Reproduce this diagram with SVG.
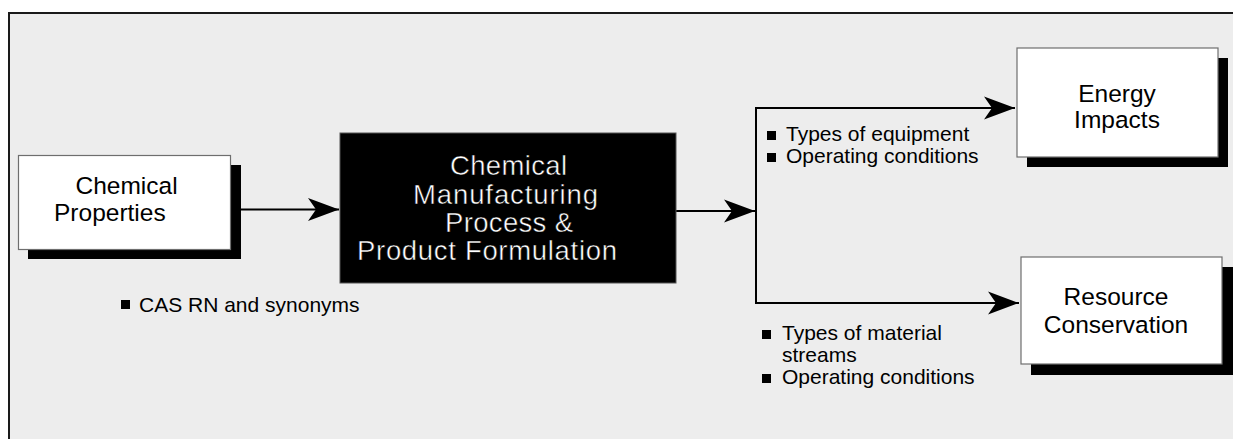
<svg xmlns="http://www.w3.org/2000/svg" width="1233" height="439" viewBox="0 0 1233 439">
<style>
.frame{fill:#ededed;stroke:#1a1a1a;stroke-width:2}
.box{fill:#ffffff;stroke:#6e6e6e;stroke-width:1.2}
.shadow{fill:#000000}
.lbl{font-family:"Liberation Sans",Arial,sans-serif;font-size:24.5px;fill:#000}
.wlbl{font-family:"Liberation Sans",Arial,sans-serif;font-size:27.5px;fill:#fff;stroke:#000;stroke-width:0.5}
.note{font-family:"Liberation Sans",Arial,sans-serif;font-size:21px;fill:#000}
.conn{fill:none;stroke:#000;stroke-width:2}
</style>
<defs>
<marker id="ah" markerUnits="userSpaceOnUse" markerWidth="32" markerHeight="24" refX="31" refY="12" orient="auto">
<path d="M0,0.5 L31,12 L0,23.5 L8,12 z" fill="#000"/>
</marker>
</defs>
<rect class="frame" x="9" y="13" width="1300" height="500"/>
<g id="connectors">
<line class="conn" x1="241" y1="209.5" x2="339" y2="209.5" marker-end="url(#ah)"/>
<line class="conn" x1="676" y1="211" x2="755" y2="211" marker-end="url(#ah)"/>
<polyline class="conn" points="1015,108 756,108 756,303 1019,303"/>
<line class="conn" x1="900" y1="108" x2="1015" y2="108" marker-end="url(#ah)"/>
<line class="conn" x1="900" y1="303" x2="1019" y2="303" marker-end="url(#ah)"/>
</g>
<g id="chemical-properties">
<rect class="shadow" x="28" y="165" width="213" height="94"/>
<rect class="box" x="18.5" y="155.5" width="212" height="94"/>
<text class="lbl" x="75.5" y="193.5">Chemical</text>
<text class="lbl" x="54" y="220.5">Properties</text>
</g>
<g id="manufacturing-process">
<rect x="340" y="133" width="336" height="150" fill="#000" stroke="#555" stroke-width="1"/>
<text class="wlbl" x="450" y="175" textLength="117" lengthAdjust="spacing">Chemical</text>
<text class="wlbl" x="413" y="203.5" textLength="185" lengthAdjust="spacing">Manufacturing</text>
<text class="wlbl" x="445" y="232" textLength="128" lengthAdjust="spacing">Process &amp;</text>
<text class="wlbl" x="357" y="260" textLength="260" lengthAdjust="spacing">Product Formulation</text>
</g>
<g id="energy-impacts">
<rect class="shadow" x="1027" y="58" width="201" height="109"/>
<rect class="box" x="1017" y="48" width="201" height="109"/>
<text class="lbl" x="1117" y="101.5" text-anchor="middle">Energy</text>
<text class="lbl" x="1117" y="128" text-anchor="middle">Impacts</text>
</g>
<g id="resource-conservation">
<rect class="shadow" x="1031" y="267" width="202" height="108"/>
<rect class="box" x="1021" y="257" width="201" height="107"/>
<text class="lbl" x="1116" y="305" text-anchor="middle">Resource</text>
<text class="lbl" x="1116" y="333" text-anchor="middle">Conservation</text>
</g>
<g id="note-cas">
<rect x="121" y="300" width="9" height="9" fill="#000"/>
<text class="note" x="139" y="312">CAS RN and synonyms</text>
</g>
<g id="note-energy">
<rect x="767" y="131" width="9" height="9" fill="#000"/>
<text class="note" x="786" y="141">Types of equipment</text>
<rect x="767" y="153" width="9" height="9" fill="#000"/>
<text class="note" x="786" y="163">Operating conditions</text>
</g>
<g id="note-resource">
<rect x="762" y="330" width="9" height="9" fill="#000"/>
<text class="note" x="782" y="340">Types of material</text>
<text class="note" x="782" y="362">streams</text>
<rect x="762" y="374" width="9" height="9" fill="#000"/>
<text class="note" x="782" y="384">Operating conditions</text>
</g>
</svg>
